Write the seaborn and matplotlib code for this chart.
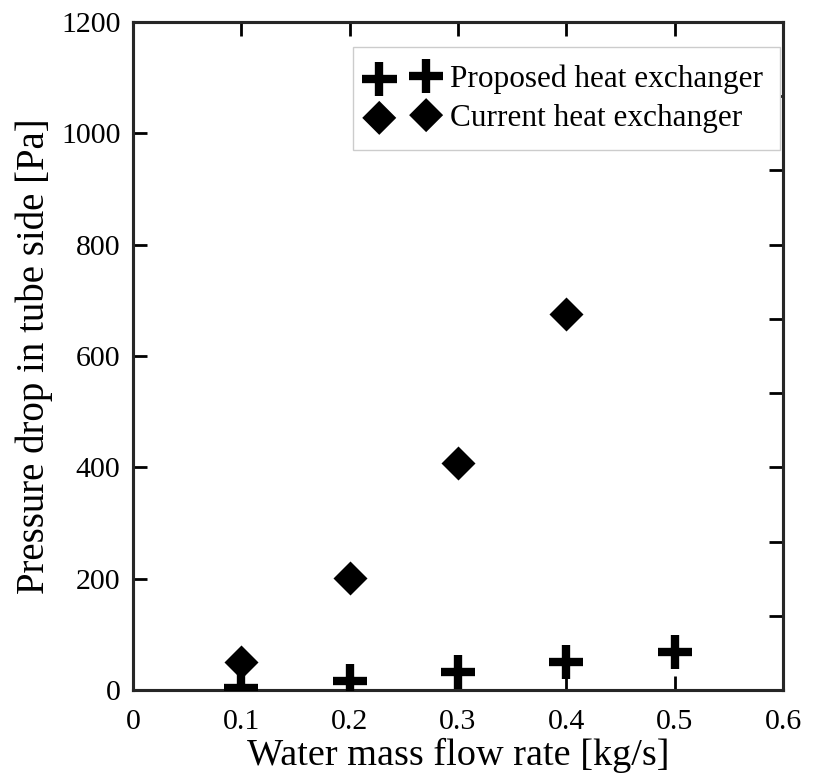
import numpy as np
import pandas as pd
import matplotlib
matplotlib.use("Agg")
import matplotlib.pyplot as plt
import seaborn as sns

# values
flow_rate = [0.1, 0.2, 0.3, 0.4, 0.5]
dp_proposed = [3, 17, 32, 50, 68]
dp_current = [50, 201, 408, 675, 1000]

sns.set_style("ticks")
plt.rcParams["font.family"] = ["Liberation Serif", "DejaVu Serif"]
plt.rcParams["text.color"] = "black"
plt.rcParams["axes.labelcolor"] = "black"
plt.rcParams["xtick.color"] = "black"
plt.rcParams["ytick.color"] = "black"

df_proposed = pd.DataFrame({"flow": flow_rate, "dp": dp_proposed})
df_current = pd.DataFrame({"flow": flow_rate, "dp": dp_current})

fig = plt.figure(figsize=(8.23, 7.83), dpi=100)
ax = fig.add_axes([0.1616, 0.1188, 0.7898, 0.8531])

sns.scatterplot(data=df_proposed, x="flow", y="dp", marker="+", s=620,
                color="black", linewidth=6, label="Proposed heat exchanger", ax=ax, zorder=3)
sns.scatterplot(data=df_current, x="flow", y="dp", marker="D", s=300,
                color="black", edgecolor="black", linewidth=0,
                label="Current heat exchanger", ax=ax, zorder=3)

ax.set_xlim(0, 0.6)
ax.set_ylim(0, 1200)
ax.set_xticks([0, 0.1, 0.2, 0.3, 0.4, 0.5, 0.6])
ax.set_xticklabels(["0", "0.1", "0.2", "0.3", "0.4", "0.5", "0.6"])
ax.set_yticks([0, 200, 400, 600, 800, 1000, 1200])
ax.set_xlabel("Water mass flow rate [kg/s]", fontsize=27.5, labelpad=2)
ax.set_ylabel("Pressure drop in tube side [Pa]", fontsize=28, labelpad=6)
ax.tick_params(axis="both", direction="in", length=10, width=2, labelsize=21.5,
               top=True)
ax.tick_params(axis="x", pad=14)
ax.tick_params(axis="y", pad=9)
for sp in ax.spines.values():
    sp.set_linewidth(2.2)
    sp.set_visible(True)

# right-hand frame carries its own unlabeled ticks
ax2 = ax.twinx()
ax2.set_ylim(0, 9)
ax2.set_yticks(range(1, 9))
ax2.set_yticklabels([])
ax2.tick_params(axis="y", direction="in", length=10, width=2)
for sp in ax2.spines.values():
    sp.set_linewidth(2.2)

leg = ax.legend(loc="upper right", bbox_to_anchor=(0.995, 0.962), fontsize=22.5,
                scatterpoints=2, frameon=True, fancybox=False, framealpha=1,
                edgecolor="#cccccc", handletextpad=0.45, borderpad=0.55,
                labelspacing=0.32, handlelength=2.1, borderaxespad=0)
leg.get_frame().set_linewidth(1)
leg.set_zorder(10)
ax.set_zorder(ax2.get_zorder() + 1)
ax.patch.set_visible(False)

fig.savefig("out.png", dpi=100)
